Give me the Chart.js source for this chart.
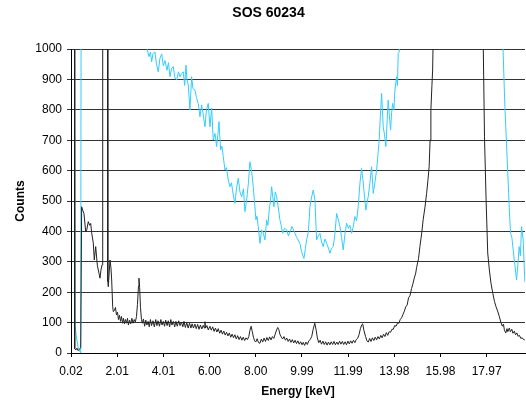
<!DOCTYPE html>
<html>
<head>
<meta charset="utf-8">
<script src="https://cdn.jsdelivr.net/npm/chart.js@4.4.1/dist/chart.umd.min.js"></script>
<style>
  body { margin: 0; background: #fff; }
</style>
</head>
<body>
<canvas id="spectrum" width="526" height="402"></canvas>
<script>
// x axis ticks (keV) and their labels
const tickValues = [0.02, 2.015, 4.01, 6.005, 8.00, 9.995, 11.99, 13.985, 15.98, 17.975];
const tickLabels = ['0.02', '2.01', '4.01', '6.00', '8.00', '9.99', '11.99', '13.98', '15.98', '17.97'];

// black spectrum
const blackX = [0.16, 0.18, 0.23, 0.28, 0.33, 0.38, 0.44, 0.48, 0.525, 0.58, 0.655, 0.70, 0.767, 0.83, 0.871, 0.914, 0.983, 1.026, 1.087, 1.156,
  1.229, 1.272, 1.315, 1.36, 1.39, 1.49, 1.585, 1.61, 1.631, 1.704, 1.747, 1.777, 1.821, 1.847, 1.898, 1.94, 1.985, 2.03, 2.07, 2.115,
  2.16, 2.20, 2.25, 2.29, 2.33, 2.375, 2.42, 2.46, 2.50, 2.55, 2.60, 2.65, 2.70, 2.75, 2.80, 2.848, 2.891, 2.935, 2.956, 2.986,
  3.021, 3.064, 3.10, 3.15, 3.20, 3.25, 3.30, 3.35, 3.40, 3.45, 3.50, 3.56, 3.62, 3.68, 3.73, 3.78, 3.84, 3.90, 3.95, 4.01,
  4.06, 4.11, 4.17, 4.22, 4.28, 4.33, 4.38, 4.44, 4.50, 4.55, 4.61, 4.67, 4.73, 4.79, 4.85, 4.90, 4.96, 5.02, 5.08, 5.14,
  5.20, 5.25, 5.31, 5.37, 5.43, 5.49, 5.55, 5.61, 5.67, 5.73, 5.785, 5.806, 5.83, 5.89, 5.95, 6.02, 6.08, 6.14, 6.20, 6.26,
  6.32, 6.38, 6.44, 6.50, 6.56, 6.62, 6.68, 6.74, 6.80, 6.86, 6.92, 6.98, 7.04, 7.10, 7.16, 7.22, 7.28, 7.34, 7.40, 7.46,
  7.52, 7.58, 7.64, 7.70, 7.75, 7.80, 7.85, 7.90, 7.95, 8.00, 8.06, 8.12, 8.18, 8.24, 8.30, 8.36, 8.42, 8.48, 8.54, 8.60,
  8.66, 8.72, 8.78, 8.84, 8.90, 8.95, 9.00, 9.05, 9.10, 9.16, 9.22, 9.28, 9.34, 9.40, 9.46, 9.52, 9.58, 9.64, 9.70, 9.76,
  9.82, 9.88, 9.94, 10.00, 10.05, 10.11, 10.17, 10.23, 10.29, 10.35, 10.42, 10.48, 10.55, 10.61, 10.66, 10.72, 10.78, 10.84, 10.90, 10.96,
  11.02, 11.08, 11.14, 11.20, 11.26, 11.32, 11.38, 11.44, 11.50, 11.56, 11.62, 11.68, 11.74, 11.80, 11.86, 11.92, 11.98, 12.04, 12.10, 12.16,
  12.22, 12.28, 12.34, 12.40, 12.46, 12.52, 12.58, 12.62, 12.67, 12.74, 12.80, 12.86, 12.92, 12.98, 13.04, 13.10, 13.16, 13.22, 13.28, 13.34,
  13.40, 13.46, 13.52, 13.58, 13.64, 13.70, 13.76, 13.82, 13.88, 13.94, 14.00, 14.06, 14.12, 14.18, 14.24, 14.30, 14.36, 14.42, 14.48, 14.54,
  14.60, 14.66, 14.73, 14.79, 14.85, 14.91, 14.95, 15.03, 15.09, 15.17, 15.23, 15.31, 15.38, 15.44, 15.49, 15.53, 15.565, 15.61, 15.64, 15.68,
  15.95, 16.73, 17.50, 17.82, 17.88, 17.95, 18.02, 18.09, 18.16, 18.24, 18.31, 18.38, 18.46, 18.525, 18.59, 18.65, 18.70, 18.74, 18.80, 18.85,
  18.89, 18.95, 19.00, 19.06, 19.11, 19.17, 19.22, 19.28, 19.33, 19.39, 19.45, 19.51, 19.56, 19.62];
const blackY = [3000, 14, 10, 16, 8, 12, 18, 481, 470, 459, 399, 405, 432, 420, 426, 395, 362, 306, 350, 289,
  262, 246, 273, 290, 3000, 6000, 3000, 235, 218, 306, 280, 240, 152, 136, 140, 150, 125, 134, 110, 124,
  104, 120, 98, 114, 96, 110, 98, 114, 92, 108, 96, 114, 98, 110, 102, 120, 160, 220, 246, 215,
  150, 110, 98, 112, 88, 108, 92, 104, 86, 110, 90, 106, 86, 110, 90, 106, 88, 110, 92, 104,
  88, 108, 90, 106, 86, 110, 92, 104, 86, 104, 88, 106, 90, 102, 86, 104, 84, 100, 82, 98,
  82, 96, 82, 95, 80, 94, 78, 92, 79, 91, 82, 103, 82, 90, 76, 88, 75, 86, 71, 82,
  69, 80, 65, 75, 62, 72, 59, 68, 56, 66, 52, 62, 50, 60, 46, 57, 44, 54, 42, 52,
  41, 50, 44, 54, 75, 88, 70, 52, 40, 36, 47, 34, 32, 46, 36, 49, 38, 51, 41, 53,
  43, 54, 48, 62, 76, 84, 76, 60, 53, 46, 54, 42, 49, 38, 46, 35, 44, 33, 42, 31,
  40, 29, 37, 27, 35, 25, 36, 28, 40, 44, 55, 78, 98, 75, 50, 34, 42, 29, 39, 28,
  37, 26, 36, 27, 37, 28, 38, 27, 36, 28, 39, 29, 38, 28, 37, 27, 39, 30, 40, 32,
  42, 34, 44, 48, 60, 80, 93, 96, 75, 55, 40, 36, 48, 38, 50, 41, 52, 43, 54, 46,
  58, 50, 62, 54, 67, 58, 70, 68, 78, 78, 90, 88, 98, 98, 110, 116, 127, 138, 152, 158,
  182, 188, 212, 228, 247, 263, 282, 310, 350, 395, 438, 480, 525, 570, 613, 700, 799, 880, 931, 1100,
  3000, 8000, 3000, 1050, 711, 503, 329, 273, 230, 196, 170, 152, 135, 119, 100, 88, 95, 75, 66, 80,
  70, 82, 70, 78, 65, 72, 60, 66, 55, 58, 48, 50, 45, 43];

// cyan spectrum
const cyanX = [0.15, 0.193, 0.25, 0.335, 0.439, 0.50, 1.50, 3.00, 3.29, 3.315, 3.388, 3.453, 3.505, 3.561, 3.647, 3.712, 3.79, 3.863, 3.937, 4.006,
  4.079, 4.165, 4.23, 4.295, 4.36, 4.437, 4.511, 4.584, 4.662, 4.727, 4.80, 4.869, 4.93, 4.986, 5.029, 5.085, 5.158, 5.23, 5.287, 5.374,
  5.439, 5.517, 5.59, 5.663, 5.72, 5.806, 5.871, 5.949, 6.022, 6.095, 6.165, 6.238, 6.311, 6.367, 6.411, 6.484, 6.54, 6.597, 6.67, 6.735,
  6.812, 6.886, 6.951, 7.028, 7.101, 7.166, 7.244, 7.317, 7.391, 7.468, 7.533, 7.607, 7.684, 7.749, 7.823, 7.892, 7.944, 8.008, 8.052, 8.108,
  8.181, 8.255, 8.324, 8.397, 8.47, 8.526, 8.582, 8.634, 8.686, 8.742, 8.785, 8.842, 8.902, 8.971, 9.044, 9.10, 9.161, 9.239, 9.334, 9.412,
  9.49, 9.563, 9.632, 9.692, 9.766, 9.834, 9.908, 9.981, 10.038, 10.081, 10.137, 10.197, 10.275, 10.34, 10.405, 10.483, 10.556, 10.629, 10.698, 10.772,
  10.845, 10.914, 10.988, 11.061, 11.139, 11.204, 11.277, 11.346, 11.419, 11.493, 11.562, 11.636, 11.709, 11.778, 11.851, 11.925, 12.003, 12.067, 12.141, 12.21,
  12.283, 12.356, 12.425, 12.499, 12.572, 12.628, 12.672, 12.715, 12.758, 12.81, 12.858, 12.931, 13.004, 13.074, 13.147, 13.22, 13.276, 13.332, 13.384, 13.436,
  13.506, 13.557, 13.622, 13.674, 13.721, 13.773, 13.825, 13.868, 13.911, 13.967, 14.011, 14.084, 14.119, 14.154, 14.197, 14.235, 15.50, 17.50, 18.66, 18.761,
  18.826, 18.904, 18.955, 19.007, 19.063, 19.12, 19.193, 19.266, 19.322, 19.378, 19.43, 19.482, 19.551, 19.624];
const cyanY = [3000, 92, 55, 15, 0, 4000, 9000, 3000, 1050, 997, 975, 990, 958, 985, 990, 950, 925, 970, 984, 945,
  962, 930, 955, 909, 935, 942, 905, 898, 925, 909, 920, 925, 880, 947, 900, 882, 799, 909, 870, 865,
  840, 821, 777, 816, 790, 744, 800, 821, 744, 805, 701, 722, 679, 720, 761, 668, 680, 646, 602, 610,
  569, 547, 560, 520, 492, 540, 575, 530, 514, 540, 465, 503, 560, 629, 597, 547, 500, 438, 450, 416,
  361, 405, 395, 372, 438, 420, 470, 500, 547, 510, 481, 530, 514, 480, 438, 420, 394, 410, 405, 385,
  400, 416, 405, 394, 380, 372, 360, 333, 320, 311, 340, 372, 400, 481, 510, 536, 503, 372, 385, 394,
  365, 350, 375, 361, 345, 328, 345, 350, 390, 459, 440, 416, 380, 339, 390, 427, 410, 420, 394, 415,
  449, 435, 481, 558, 607, 570, 536, 500, 470, 495, 514, 560, 613, 525, 560, 602, 650, 701, 780, 854,
  745, 720, 679, 760, 832, 780, 734, 790, 821, 800, 865, 909, 880, 986, 990, 1050, 5000, 5000, 1050, 810,
  700, 559, 470, 394, 380, 339, 290, 240, 290, 350, 320, 416, 372, 233];

function toPoints(xs, ys) {
  return xs.map((x, i) => ({ x: x, y: ys[i] }));
}

Chart.defaults.font.family = '"Liberation Sans", Arial, sans-serif';
Chart.defaults.font.size = 12;
Chart.defaults.color = '#000';

new Chart('spectrum', {
  type: 'line',
  data: {
    datasets: [
      {
        label: 'black',
        data: toPoints(blackX, blackY),
        borderColor: '#222222',
        borderWidth: 1,
        pointRadius: 0,
        tension: 0
      },
      {
        label: 'cyan',
        data: toPoints(cyanX, cyanY),
        borderColor: '#33ccff',
        borderWidth: 1,
        pointRadius: 0,
        tension: 0
      }
    ]
  },
  options: {
    responsive: false,
    animation: false,
    layout: { padding: { left: 12, right: 1, top: 0, bottom: 0 } },
    plugins: {
      legend: { display: false },
      tooltip: { enabled: false },
      title: {
        display: true,
        text: 'SOS 60234',
        color: '#000',
        font: { size: 14, weight: 'bold' },
        padding: { top: 5, bottom: 27.2 }
      }
    },
    scales: {
      x: {
        type: 'linear',
        min: 0.02,
        max: 19.63,
        afterBuildTicks: function (scale) {
          scale.ticks = tickValues.map(v => ({ value: v }));
        },
        afterFit: function (scale) { scale.height = 49; },
        ticks: {
          callback: (v, i) => tickLabels[i],
          autoSkip: false,
          maxRotation: 0,
          padding: 7
        },
        grid: { drawOnChartArea: false, tickLength: 4, color: '#000' },
        border: { color: '#000' },
        title: {
          display: true,
          text: 'Energy [keV]',
          font: { size: 12, weight: 'bold' },
          padding: { top: 0, bottom: 3 }
        }
      },
      y: {
        min: 0,
        max: 1000,
        afterFit: function (scale) { scale.width = 59; },
        ticks: { stepSize: 100, padding: 5, callback: v => String(v) },
        grid: { color: '#333', tickLength: 4 },
        border: { color: '#000' },
        title: {
          display: true,
          text: 'Counts',
          font: { size: 12, weight: 'bold' },
          padding: { top: 1, bottom: 0 }
        }
      }
    }
  }
});
</script>
</body>
</html>
